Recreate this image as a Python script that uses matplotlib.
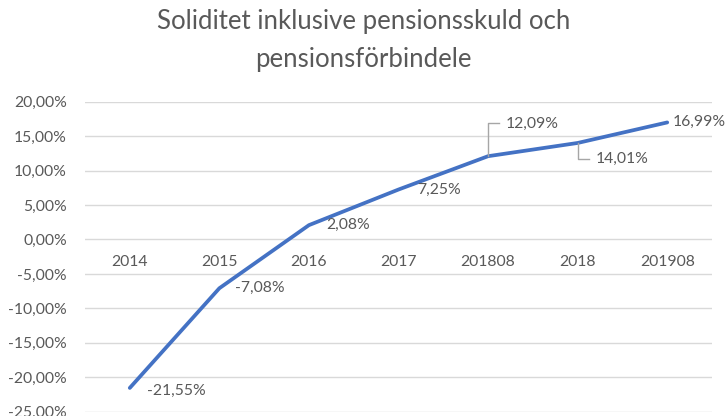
import matplotlib
matplotlib.use("Agg")
import matplotlib.pyplot as plt
from matplotlib.transforms import IdentityTransform

categories = ["2014", "2015", "2016", "2017", "201808", "2018", "201908"]
values = [-21.55, -7.08, 2.08, 7.25, 12.09, 14.01, 16.99]
labels = ["-21,55%", "-7,08%", "2,08%", "7,25%", "12,09%", "14,01%", "16,99%"]
yticks = [20, 15, 10, 5, 0, -5, -10, -15, -20, -25]
title_lines = ["Soliditet inklusive pensionsskuld och", "pensionsförbindele"]

FONT = "Lato"
GRAY = "#595959"
FS = 11.3
plt.rcParams["font.family"] = [FONT, "DejaVu Sans"]

fig = plt.figure(figsize=(7.27, 4.16), dpi=100)
ax = fig.add_axes([85/727, 4.3/416, 627/727, 310/416])
x = list(range(len(categories)))
ax.plot(x, values, color="#4472C4", lw=2.7, solid_capstyle="round", solid_joinstyle="round", zorder=3)
ax.set_xlim(-0.5, len(categories) - 0.5)
ax.set_ylim(-25, 20)
ax.set_yticks(yticks)
ax.set_yticklabels([f"{v},00%" for v in yticks], color=GRAY, fontsize=FS)
ax.yaxis.grid(True, color="#D9D9D9", lw=1)
ax.set_axisbelow(True)
for s in ax.spines.values():
    s.set_visible(False)
ax.tick_params(axis="y", length=0, pad=13)
ax.tick_params(axis="x", length=0)
ax.set_xticks([])
for xi, c in zip(x, categories):
    ax.annotate(c, (xi, 0), xytext=(0, -23), textcoords="offset pixels",
                ha="center", va="center", color=GRAY, fontsize=FS)

# data labels: offsets in pixels (dx, dy)
offsets = [(17, -3), (16, 0), (17, 0), (19, 0), (18, 32), (18, -16), (5, 1)]
for xi, v, lab, (dx, dy) in zip(x, values, labels, offsets):
    ax.annotate(lab, (xi, v), xytext=(dx, dy), textcoords="offset pixels",
                ha="left", va="center", color=GRAY, fontsize=FS)

fig.canvas.draw()
leaders = {4: [(0, 0), (0, 33), (11, 33)], 5: [(0, 0), (0, -16), (11, -16)]}
for i, pts in leaders.items():
    px, py = ax.transData.transform((x[i], values[i]))
    xs = [px + a for a, b in pts]
    ys = [py + b for a, b in pts]
    fig.add_artist(plt.Line2D(xs, ys, transform=IdentityTransform(), color="#A6A6A6", lw=1, zorder=2))

for line, ypx in zip(title_lines, [22, 60]):
    fig.text(0.5, 1 - ypx/416, line, ha="center", va="center", fontsize=18.5, color=GRAY)
fig.savefig("out.png", dpi=100)
